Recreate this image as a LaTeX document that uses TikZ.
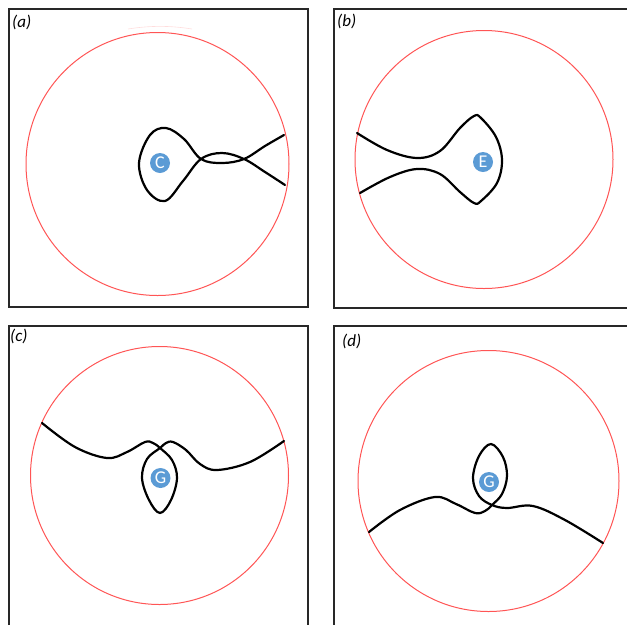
\documentclass[tikz,border=0pt]{standalone}
\usepackage{fontspec}
\setmainfont{Carlito}
\definecolor{markblue}{RGB}{91,155,213}
\definecolor{ringred}{RGB}{255,85,85}
\definecolor{framegray}{RGB}{40,40,40}
\begin{document}
\begin{tikzpicture}[x=1pt,y=-1pt,
  framebox/.style={draw=framegray,line width=1.4pt},
  ring/.style={draw=ringred,line width=1pt},
  path/.style={draw=black,line width=2.2pt,line join=round,line cap=round},
  marker/.style={circle,fill=markblue,minimum size=20pt,inner sep=0pt,text=white,font=\fontsize{18}{18}\selectfont},
  panellabel/.style={font=\itshape\fontsize{17}{17}\selectfont,inner sep=0pt,anchor=west}]
\useasboundingbox (0,0) rectangle (627,625);
% frames
\draw[framebox] (9,9) rectangle (308,307);
\draw[framebox] (627,9) -- (334,9) -- (334,308) -- (627,308);
\draw[framebox] (9,625) -- (9,326) -- (308,326) -- (308,625);
\draw[framebox] (627,326) -- (334,326) -- (334,625);
% labels
\node[panellabel] (la) at (12,22) {(a)};
\node[panellabel] (lb) at (337,21) {(b)};
\node[panellabel] (lc) at (10,336) {(c)};
\node[panellabel] (ld) at (342,341) {(d)};
% rings
\draw[ring] (157.5,164) circle (131.5);
\draw[ringred!20,line width=0.6pt] (128,29) .. controls (150,25.5) and (170,25.5) .. (192,29);
\draw[ring] (484,159.5) circle (129);
\draw[ring] (159.5,475.5) circle (129);
\draw[ring] (488.5,481) circle (130.5);
% curve (a)
\draw[path] plot[smooth,tension=0.6] coordinates {(284,135) (265,146) (244,159) (222,163) (201,159) (184,139) (166,128) (150,135) (139,163) (147,190) (165,201) (183,181) (201,159) (222,153) (244,159) (265,172) (285,185)};
% curve (b)
\draw[path] plot[smooth,tension=0.6] coordinates {(357,133) (387,150) (417,158) (440,151) (460,128) (474,116) (481,118) (496,137) (502,160) (497,183) (481,201) (474,203) (460,192) (440,174) (417,169) (390,177) (360,193)};
% curve (c)
\draw[path] plot[smooth,tension=0.6] coordinates {(42,423) (75,447) (107,458) (127,452) (145,442) (153,443) (160,448) (172,460) (177,478) (171,500) (160,513) (149,500) (142,478) (147,459) (160,448) (166,443) (173,442) (186,450) (200,464) (217,470) (250,462) (284,441)};
% curve (d)
\draw[path] plot[smooth,tension=0.6] coordinates {(369,532) (400,510) (435,497) (456,504) (475,513) (485,511) (492,505) (502,494) (507,476) (503,457) (491,444) (479,456) (473,478) (479,496) (492,505) (507,508) (533,506) (565,520) (603,543)};
% markers
\node[marker] (mc) at (160,163) {C};
\node[marker] (me) at (483,162) {E};
\node[marker] (mg1) at (160.5,478) {G};
\node[marker] (mg2) at (489,482) {G};
\end{tikzpicture}
\end{document}
